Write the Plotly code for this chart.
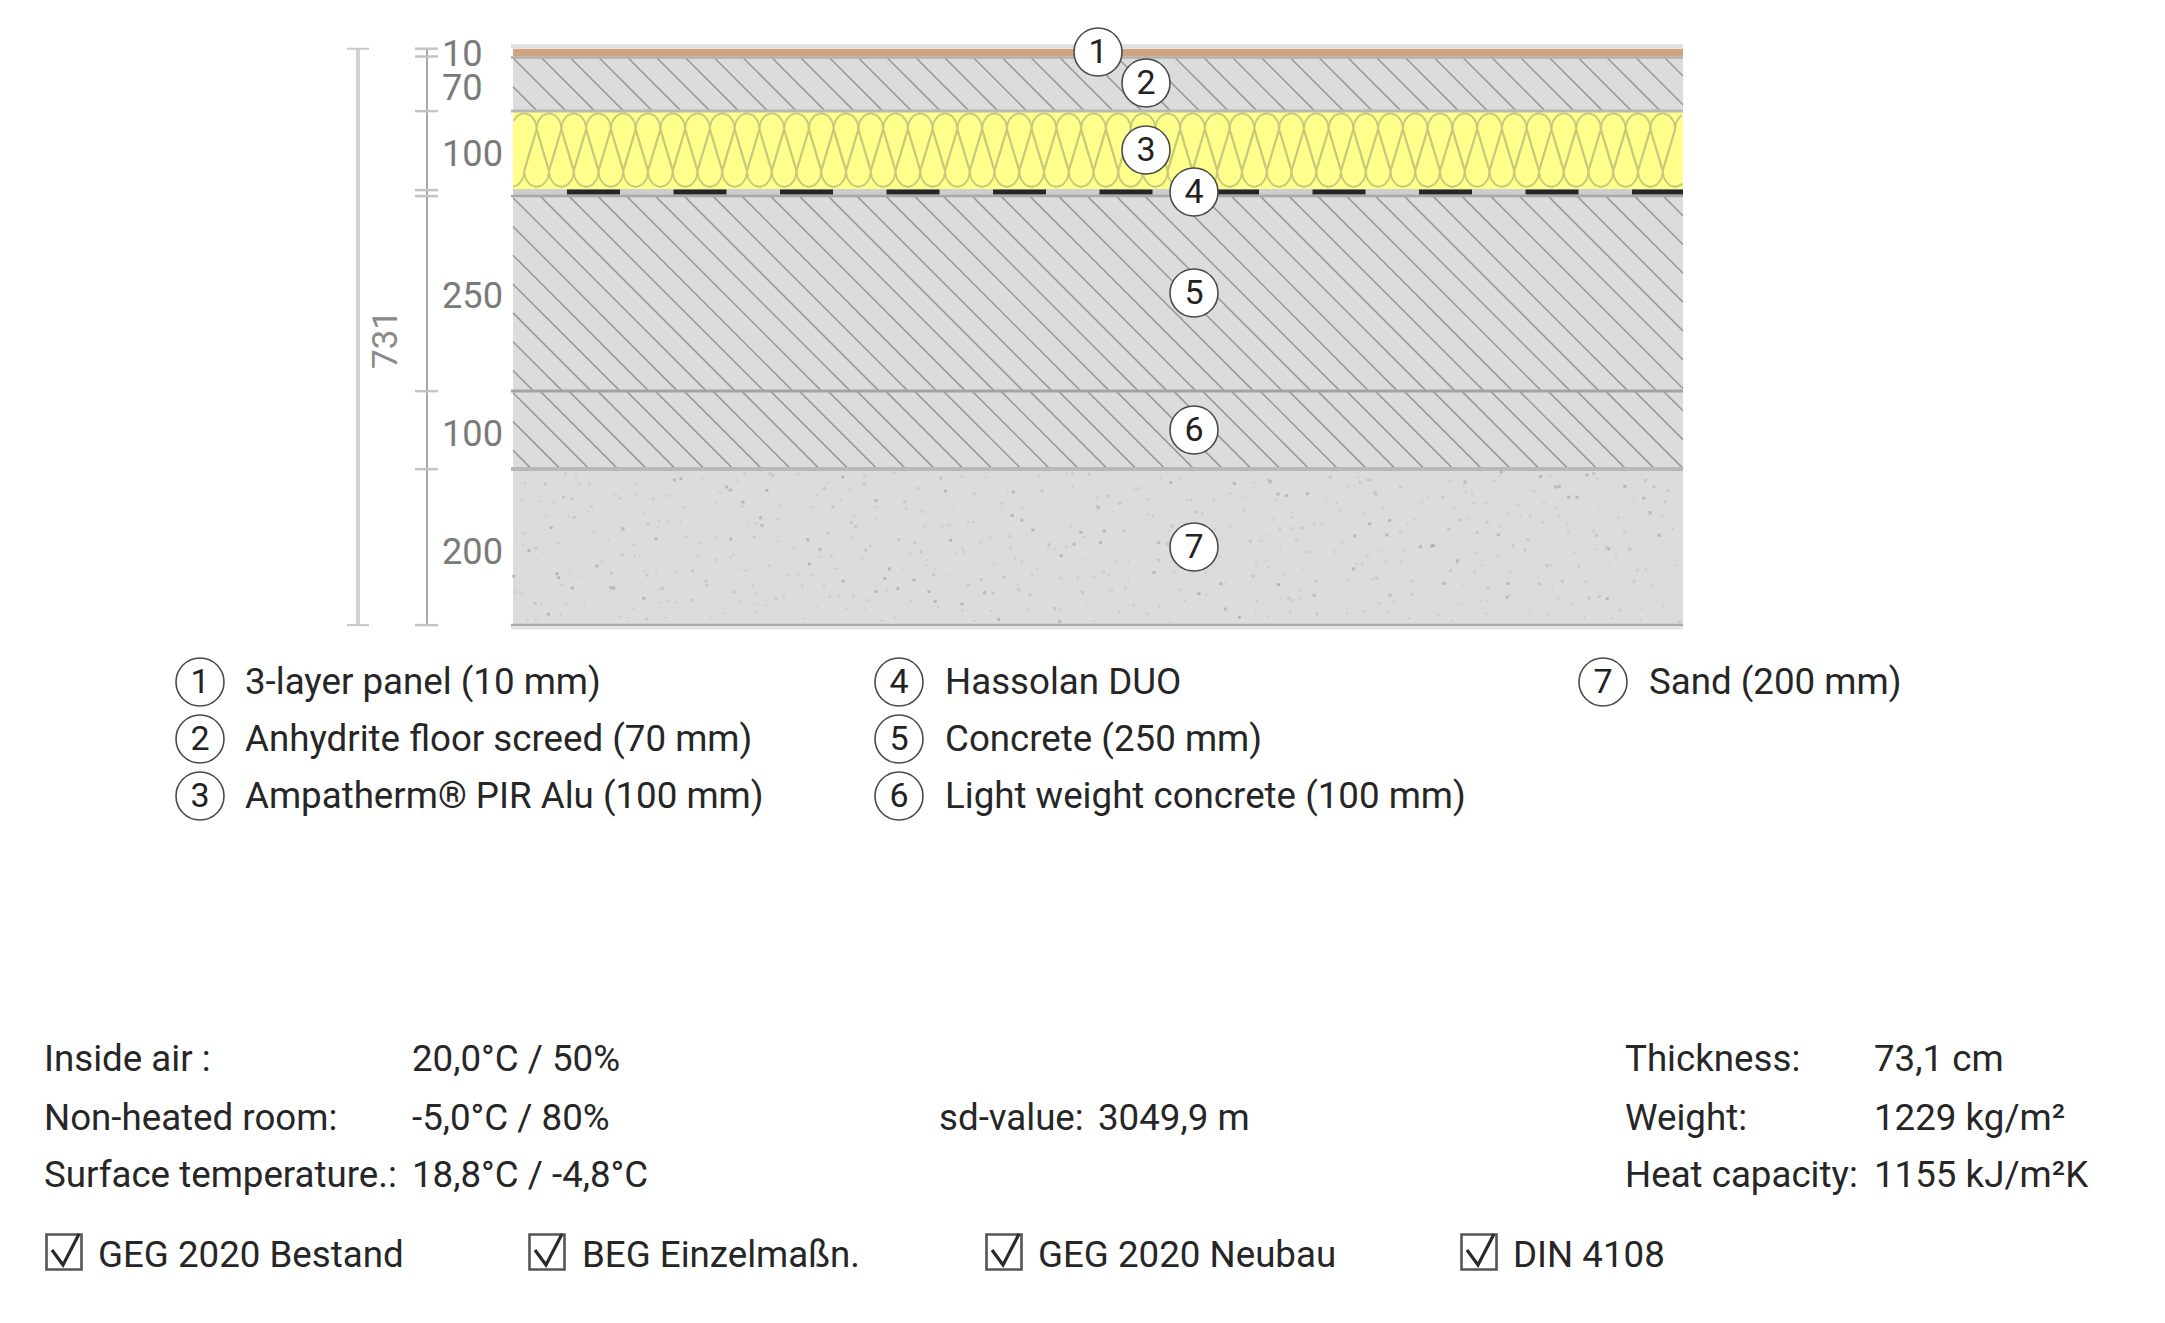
import numpy as np
import plotly.graph_objects as go

# layer build-up, top to bottom
layer_names = ["3-layer panel (10 mm)", "Anhydrite floor screed (70 mm)", "Ampatherm® PIR Alu (100 mm)",
               "Hassolan DUO", "Concrete (250 mm)", "Light weight concrete (100 mm)", "Sand (200 mm)"]
layer_mm = [10, 70, 100, 1, 250, 100, 200]
layer_drawn_mm = [10, 70, 100, 9, 250, 100, 200]  # foil is drawn thicker than it is
layer_colors = ["#cfa47e", "#dcdcdc", "#ffff8c", "#cdcdcd", "#dcdcdc", "#dcdcdc", "#dcdcdc"]
dim_labels = ["10", "70", "100", "", "250", "100", "200"]
total_label = "731"

# bubbles on the section
bubble_x = [1098, 1146, 1146, 1194, 1194, 1194, 1194]
bubble_y = [52, 83, 150, 192, 293, 430, 547]

# text blocks
info_left = ["Inside air :", "Non-heated room:", "Surface temperature.:"]
info_left_val = ["20,0°C / 50%", "-5,0°C / 80%", "18,8°C / -4,8°C"]
info_right = ["Thickness:", "Weight:", "Heat capacity:"]
info_right_val = ["73,1 cm", "1229 kg/m²", "1155 kJ/m²K"]
sd_label = "sd-value:"
sd_value = "3049,9 m"
checks = ["GEG 2020 Bestand", "BEG Einzelmaßn.", "GEG 2020 Neubau", "DIN 4108"]

MM = 0.78
X0, X1 = 513, 1683
Y0 = 48.7
FONT = "Roboto"
TXT = 36.7
DY = 3.5  # middle-anchored text sits a little high

tops = Y0 + MM * np.concatenate([[0], np.cumsum(layer_drawn_mm)[:-1]])
heights = MM * np.array(layer_drawn_mm)
bottoms = tops + heights

fig = go.Figure()

fig.add_bar(x=[(X0 + X1) / 2] * 7, y=heights, base=tops, width=X1 - X0,
            marker=dict(color=layer_colors, line_width=0), hoverinfo="skip")

# sand speckle, only a texture: golden ratio steps with a wobble so it doesn't look like a grid
k = np.arange(1, 560)
speck_x = X0 + (X1 - X0) * ((k * 0.75488 + 0.07 * np.sin(k * 0.73)) % 1)
speck_y = tops[6] + 3 + (heights[6] - 6) * ((k * 0.56984 + 0.09 * np.sin(k * 1.31)) % 1)
speck_size = np.array([2, 3, 2.5, 3, 2, 3])[k % 6]
speck_color = np.array(["#c6c6c6", "#bdbdbd", "#c8c8c8", "#a8a8a8", "#c4c4c4", "#cacaca"])[k % 6]
fig.add_scatter(x=speck_x, y=speck_y, mode="markers", hoverinfo="skip",
                marker=dict(symbol="square", size=speck_size, color=speck_color, line_width=0))


# 45 degree hatching, clipped to one layer
def hatch(top, bottom, phase, pitch=28.8):
    xs, ys = [], []
    c = phase + pitch * np.ceil((X0 - bottom - phase) / pitch)
    while c < X1 - top:
        xa = max(X0, c + top)
        xb = min(X1, c + bottom)
        xs += [xa, xb, None]
        ys += [xa - c, xb - c, None]
        c += pitch
    return xs, ys


hatch_layers = {1: 23.0, 4: 27.3, 5: 5.0}
for i, phase in hatch_layers.items():
    hx, hy = hatch(tops[i], bottoms[i], phase)
    fig.add_scatter(x=hx, y=hy, mode="lines", line=dict(color="#999999", width=1.5), hoverinfo="skip")


# insulation symbol: teardrops pointing down from the top edge and up from the bottom edge
def insulation(top, bottom, first, pitch=24.75):
    h = bottom - top
    phi = np.linspace(np.pi, 0, 18)
    xs, ys = [], []
    c = first
    while c - pitch / 2 < X1:
        arc_x = list(c + 0.5 * pitch * np.cos(phi))
        arc_y = top + 0.03 * h + 0.2 * h * (1 - np.sin(phi))
        xs += arc_x + [c, arc_x[0], None]
        ys += list(arc_y) + [top + 0.76 * h, arc_y[0], None]
        arc_x = list(c + 0.5 * pitch + 0.5 * pitch * np.cos(phi))
        arc_y = bottom - 0.03 * h - 0.2 * h * (1 - np.sin(phi))
        xs += arc_x + [c + 0.5 * pitch, arc_x[0], None]
        ys += list(arc_y) + [bottom - 0.76 * h, arc_y[0], None]
        c += pitch
    xs = np.array(xs, dtype=float)
    ys = np.array(ys, dtype=float)
    xs[(xs < X0) | (xs > X1)] = np.nan
    return xs, ys


ix, iy = insulation(tops[2], bottoms[2], 549 - 24.75 * 3)
fig.add_scatter(x=ix, y=iy, mode="lines", line=dict(color="#c9c97c", width=1.9), hoverinfo="skip")

# foil dashes
foil_y = (tops[3] + bottoms[3]) / 2 - 0.5
fig.add_scatter(x=[567, X1], y=[foil_y, foil_y], mode="lines",
                line=dict(color="#262626", width=5, dash="53px,53.5px"), hoverinfo="skip")

# layer boundaries
for y, col, w in [(tops[0] - 2.5, "#e0e0e0", 4), (bottoms[0] + 1, "#b0b0b0", 2.5), (bottoms[1], "#b8b8b8", 3),
                  (bottoms[3], "#a8a8a8", 2.5), (bottoms[4], "#a4a4a4", 3), (bottoms[5], "#b8b8b8", 4),
                  (bottoms[6], "#a8a8a8", 2.5), (bottoms[6] + 3, "#e4e4e4", 3)]:
    fig.add_scatter(x=[X0 - 2, X1], y=[y, y], mode="lines", line=dict(color=col, width=w), hoverinfo="skip")

# dimension lines
fig.add_scatter(x=[358, 358], y=[tops[0], bottoms[6]], mode="lines", line=dict(color="#d2d2d2", width=4), hoverinfo="skip")
for y in [tops[0], bottoms[6]]:
    fig.add_scatter(x=[347, 369], y=[y, y], mode="lines", line=dict(color="#c8c8c8", width=2), hoverinfo="skip")
fig.add_scatter(x=[427, 427], y=[tops[0], bottoms[6]], mode="lines", line=dict(color="#a8a8a8", width=2), hoverinfo="skip")
for y in [tops[0], bottoms[0], bottoms[1], bottoms[2] + 1, bottoms[3], bottoms[4], bottoms[5], bottoms[6]]:
    fig.add_scatter(x=[415, 438], y=[y, y], mode="lines", line=dict(color="#c4c4c4", width=2.5), hoverinfo="skip")

# dimension numbers, the first two squeeze past their layers
dim_y = [53, 87, 153, None, 295, 433, 551]
fig.add_scatter(x=[442] * 7, y=[None if v is None else v + DY for v in dim_y], mode="text", text=dim_labels,
                textposition="middle right",
                textfont=dict(family=FONT, size=36.2, color="#7a7a7a"), hoverinfo="skip")
fig.add_annotation(x=385, y=340, text=total_label, textangle=-90, showarrow=False,
                   font=dict(family=FONT, size=35, color="#8a8a8a"))


def bubbles(xs, ys, labels):
    fig.add_scatter(x=xs, y=ys, mode="markers",
                    marker=dict(symbol="circle", size=48, color="white", line=dict(color="#4a4a4a", width=1.6)),
                    hoverinfo="skip")
    fig.add_scatter(x=xs, y=[v + DY - 1 for v in ys], mode="text", text=labels, textposition="middle center",
                    textfont=dict(family=FONT, size=34, color="#222222"), hoverinfo="skip")


numbers = [str(i + 1) for i in range(7)]
bubbles(bubble_x, bubble_y, numbers)

# legend below the section
leg_circle_x = [200, 200, 200, 899, 899, 899, 1603]
leg_y = [682, 739, 796, 682, 739, 796, 682]
leg_text_x = [245, 245, 245, 945, 945, 945, 1649]
bubbles(leg_circle_x, leg_y, numbers)
fig.add_scatter(x=leg_text_x, y=[v - 1 + DY for v in leg_y], mode="text", text=layer_names, textposition="middle right",
                textfont=dict(family=FONT, size=TXT, color="#262626"), hoverinfo="skip")


def text_col(x, ys, labels):
    fig.add_scatter(x=[x] * len(ys), y=[v + DY for v in ys], mode="text", text=labels, textposition="middle right",
                    textfont=dict(family=FONT, size=TXT, color="#262626"), hoverinfo="skip")


info_y = [1058, 1117, 1174]
text_col(44, info_y, info_left)
text_col(412, info_y, info_left_val)
text_col(1625, info_y, info_right)
text_col(1874, info_y, info_right_val)
text_col(939, [info_y[1]], [sd_label])
text_col(1098, [info_y[1]], [sd_value])

# check boxes
box_x = [46, 529, 986, 1461]
label_x = [98, 582, 1038, 1513]
fig.add_scatter(x=[b + 18 for b in box_x], y=[1252] * 4, mode="markers",
                marker=dict(symbol="square", size=35, color="white", line=dict(color="#555555", width=2.6)),
                hoverinfo="skip")
for b in box_x:
    fig.add_scatter(x=[b + 6, b + 17, b + 33], y=[1250, 1265, 1234], mode="lines",
                    line=dict(color="#2a2a2a", width=3.2), hoverinfo="skip")
fig.add_scatter(x=label_x, y=[1254 + DY] * 4, mode="text", text=checks, textposition="middle right",
                textfont=dict(family=FONT, size=TXT, color="#262626"), hoverinfo="skip")

fig.update_layout(
    width=2165, height=1323, margin=dict(l=0, r=0, t=0, b=0),
    paper_bgcolor="white", plot_bgcolor="white", showlegend=False, barmode="overlay",
    xaxis=dict(range=[0, 2165], visible=False),
    yaxis=dict(range=[1323, 0], visible=False),
)

fig.write_html("out.html", config={"displayModeBar": False}, post_script="document.body.style.margin=0")
